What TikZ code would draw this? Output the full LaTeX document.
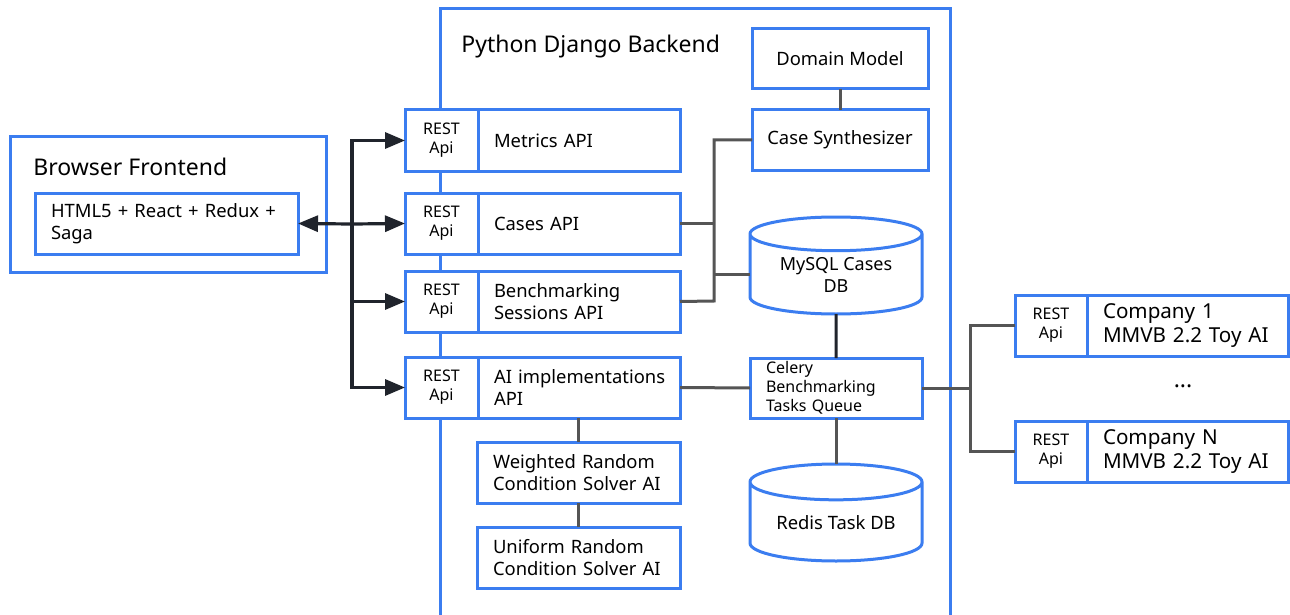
\documentclass[tikz,border=0pt]{standalone}
\usepackage{fontspec}
\setmainfont{Noto Sans}
\usetikzlibrary{positioning,shapes.geometric,arrows.meta}
\definecolor{boxblue}{RGB}{59,125,240}
\definecolor{linkgray}{RGB}{85,85,85}
\definecolor{arrowdark}{RGB}{32,36,44}
\tikzset{
	box/.style={draw=boxblue,line width=1.5pt,fill=white,inner sep=0pt,outer sep=0pt,font=\fontsize{9.2}{11}\selectfont},
	textbox/.style={box,align=left,text width=#1,minimum height=30.5pt,execute at begin node={\leftskip=8pt\relax}},
	restbox/.style={box,align=center,minimum width=36.5pt,minimum height=30.5pt,font=\fontsize{8}{9.5}\selectfont},
	db/.style={box,cylinder,shape border rotate=90,aspect=0.3,minimum width=86pt,minimum height=48.5pt,align=center,anchor=north},
	title/.style={anchor=west,inner sep=0pt,font=\fontsize{11.5}{13}\selectfont},
	link/.style={draw=linkgray,line width=1.5pt},
	flow/.style={draw=arrowdark,line width=1.6pt,-{Triangle[length=10pt,width=8pt]}},
}
\begin{document}
\begin{tikzpicture}[x=0.5pt,y=-0.5pt]
	\useasboundingbox (0,0) rectangle (1290,615);
	\draw[box] (440,615) -- (440,9) -- (950,9) -- (950,615);
	\node[title] (backtitle) at (461,47) {Python Django Backend};

	\node[box,anchor=north west,minimum width=158pt,minimum height=67.5pt] (front) at (10,137) {};
	\node[title] (fronttitle) at (33,167) {Browser Frontend};
	\node[textbox=131.5pt,anchor=north west] (html) at (35,193) {HTML5 + React + Redux +\\Saga};

	\node[restbox,anchor=north west] (mrest) at (405,110) {REST\\Api};
	\node[restbox,anchor=north west] (crest) at (405,193) {REST\\Api};
	\node[restbox,anchor=north west] (brest) at (405,271) {REST\\Api};
	\node[restbox,anchor=north west] (arest) at (405,357) {REST\\Api};
	\node[textbox=101pt,right=0pt of mrest] (mapi) {Metrics API};
	\node[textbox=101pt,right=0pt of crest] (capi) {Cases API};
	\node[textbox=101pt,right=0pt of brest] (bapi) {Benchmarking\\Sessions API};
	\node[textbox=101pt,right=0pt of arest] (aapi) {AI implementations\\API};
	\node[textbox=101.5pt,anchor=north west] (weighted) at (477,442) {Weighted Random\\Condition Solver AI};
	\node[textbox=101.5pt,anchor=north west] (uniform) at (477,527) {Uniform Random\\Condition Solver AI};

	\node[box,anchor=north west,minimum width=88pt,minimum height=30pt] (domain) at (752,29) {Domain Model};
	\node[box,anchor=north west,minimum width=88pt,minimum height=30pt] (casesyn) at (752,110) {Case Synthesizer};
	\node[db,font=\fontsize{9}{11}\selectfont] (mysql) at (836,217) {MySQL Cases\\DB};
	\node[textbox=86pt,anchor=north west,minimum height=30pt,font=\fontsize{8}{9.5}\selectfont] (celery) at (750,358) {Celery\\Benchmarking\\Tasks Queue};
	\node[db] (redis) at (836,464) {Redis Task DB};

	\node[restbox,anchor=north west,minimum width=36pt] (c1rest) at (1015,295) {REST\\Api};
	\node[textbox=100.5pt,right=0pt of c1rest,font=\fontsize{10.3}{12}\selectfont] (c1) {Company 1\\MMVB 2.2 Toy AI};
	\node[restbox,anchor=north west,minimum width=36pt] (cnrest) at (1015,421) {REST\\Api};
	\node[textbox=100.5pt,right=0pt of cnrest,font=\fontsize{10.3}{12}\selectfont] (cn) {Company N\\MMVB 2.2 Toy AI};
	\node[font=\fontsize{11.5}{13}\selectfont] (dots) at (1183,386) {...};

	\coordinate (bus) at (714,301);
	\coordinate (split) at (970,388);
	\coordinate (fork) at (352,224);
	\draw[link] (domain) -- (casesyn);
	\draw[link] (casesyn.west) -| (bus) -- (bapi.east);
	\draw[link] (capi.east) -- (capi.east -| bus);
	\draw[link] (mysql.west) -- (mysql.west -| bus);
	\draw[link,draw=arrowdark] (mysql.south) -- (celery.north);
	\draw[link] (celery.south) -- (redis.north);
	\draw[link] (aapi.east) -- (celery.west);
	\draw[link] (celery.east) -- (split);
	\draw[link] (c1rest.west) -| (split) |- (cnrest.west);
	\draw[link] (aapi.south -| weighted.north) -- (weighted.north);
	\draw[link] (weighted) -- (uniform);

	\draw[flow] (fork) -- (html.east);
	\draw[flow] (fork) -- (crest.west);
	\draw[flow] (fork) |- (mrest.west);
	\draw[flow] (fork) |- (brest.west);
	\draw[flow] (fork) |- (arest.west);
\end{tikzpicture}
\end{document}
